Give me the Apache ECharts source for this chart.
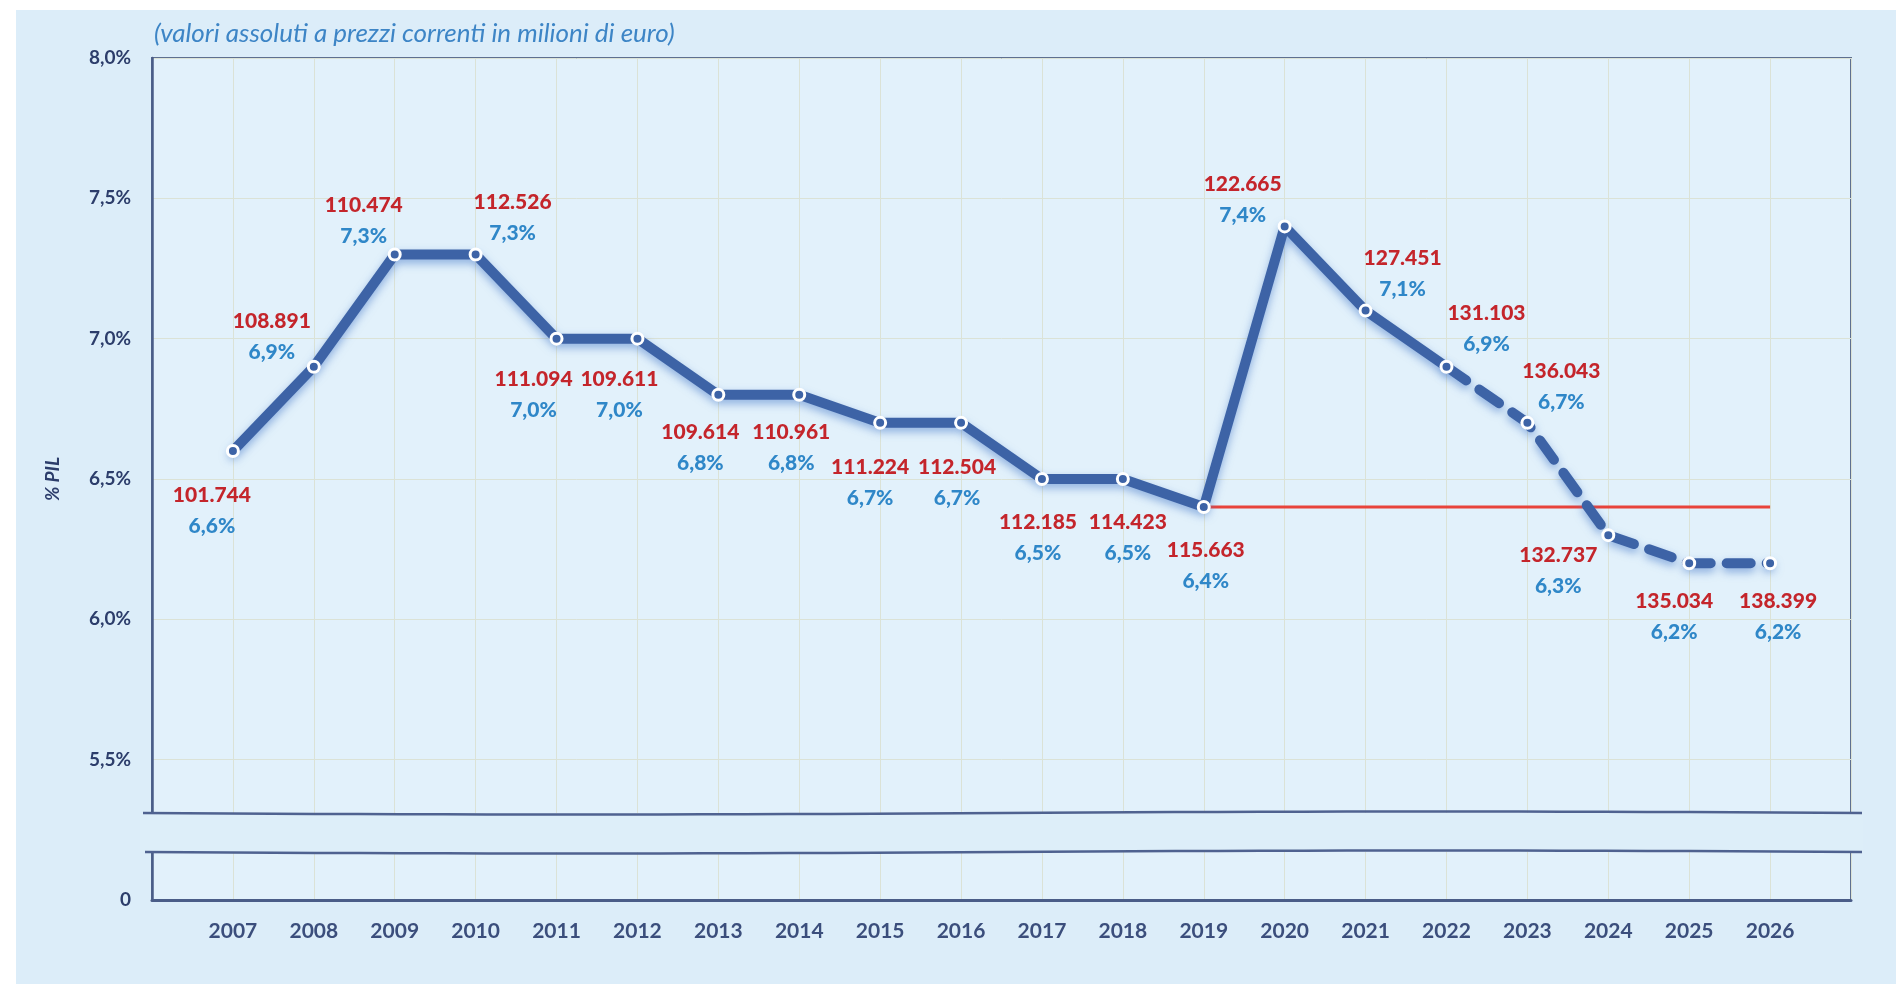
<!DOCTYPE html>
<html>
<head>
<meta charset="utf-8">
<script src="https://cdn.jsdelivr.net/npm/echarts@6/dist/echarts.min.js"></script>
<style>
html,body{margin:0;padding:0;background:#ffffff;}
#chart{width:1896px;height:984px;}
</style>
</head>
<body>
<div id="chart"></div>
<script>
// ---- data ----
const years = [2007,2008,2009,2010,2011,2012,2013,2014,2015,2016,2017,2018,2019,2020,2021,2022,2023,2024,2025,2026];
const pctPIL = [6.6,6.9,7.3,7.3,7.0,7.0,6.8,6.8,6.7,6.7,6.5,6.5,6.4,7.4,7.1,6.9,6.7,6.3,6.2,6.2];
const spesaMln = [101744,108891,110474,112526,111094,109611,109614,110961,111224,112504,112185,114423,115663,122665,127451,131103,136043,132737,135034,138399];
const yTickValues = [5.0,5.5,6.0,6.5,7.0,7.5,8.0];
const yTickLabels = ['0','5,5%','6,0%','6,5%','7,0%','7,5%','8,0%'];
const lastSolidYear = 2022;
const refStartYear = 2019;
const refEndYear = 2026;
const subtitle = '(valori assoluti a prezzi correnti in milioni di euro)';
const yName = '% PIL';

// ---- label placement (style) ----
const labelOffsets = [[-21,60],[-42,-30],[-31,-34],[37,-37],[-23,56],[-18,56],[-18,53],[-8,53],[-10,60],[-4,60],[-4,59],[5,59],[2,59],[-42,-27],[37,-37],[40,-38],[34,-36],[-50,36],[-15,54],[8,54]];

const fmtEuro = v => String(v).replace(/\B(?=(\d{3})+(?!\d))/g, '.');
const fmtPct = v => v.toFixed(1).replace('.', ',') + '%';

const pairs = years.map((y,i) => [y, pctPIL[i]]);
const solid = pairs.filter(p => p[0] <= lastSolidYear);
const dashed = pairs.filter(p => p[0] >= lastSolidYear);
const refVal = pctPIL[years.indexOf(refStartYear)];

const FONT = 'Lato';
const lineColor = '#3d63a6';

const chart = echarts.init(document.getElementById('chart'));
const option = {
  backgroundColor: '#dcedf9',
  animation: false,
  title: {
    text: subtitle, left: 149, top: 16,
    textStyle: {fontFamily: FONT, fontStyle: 'italic', fontWeight: 'normal', fontSize: 26, color: '#3d85c6'}
  },
  grid: {
    left: 152, top: 58, right: 45, bottom: 84,
    show: true, backgroundColor: '#e2f1fb', borderColor: '#5e7090', borderWidth: 2
  },
  xAxis: {
    type: 'value', min: 2006, max: 2027, interval: 1,
    axisLine: {show: true, lineStyle: {color: '#4a5d88', width: 3}},
    axisTick: {show: false},
    splitLine: {show: true, lineStyle: {color: '#dbe2d6', width: 1}},
    axisLabel: {
      margin: 21, fontFamily: FONT, fontWeight: 'bold', fontSize: 21, color: '#3b4e7c',
      formatter: v => years.indexOf(v) >= 0 ? String(v) : ''
    }
  },
  yAxis: {
    type: 'value', min: 5, max: 8, interval: 0.5,
    name: yName, nameLocation: 'middle', nameRotate: 90, nameGap: 90,
    nameTextStyle: {fontFamily: FONT, fontWeight: 'bold', fontStyle: 'italic', fontSize: 19, color: '#2c3d6b'},
    axisLine: {show: true, lineStyle: {color: '#4a5d88', width: 2.5}},
    axisTick: {show: false},
    splitLine: {show: true, lineStyle: {color: '#dbe2d6', width: 1}},
    axisLabel: {
      margin: 21, fontFamily: FONT, fontWeight: 'bold', fontSize: 19, color: '#2c3d6b',
      formatter: v => { const k = yTickValues.findIndex(t => Math.abs(t - v) < 1e-6); return k >= 0 ? yTickLabels[k] : ''; }
    }
  },
  series: [
    {
      type: 'line', name: 'riferimento', z: 2, silent: true,
      data: [[refStartYear, refVal], [refEndYear, refVal]],
      symbol: 'none', lineStyle: {color: '#e8433b', width: 3}
    },
    {
      type: 'line', name: 'consuntivo', z: 3, silent: true,
      data: solid, symbol: 'none',
      lineStyle: {color: lineColor, width: 10, cap: 'round', join: 'round',
        shadowColor: 'rgba(70,120,200,0.55)', shadowBlur: 8, shadowOffsetY: 4}
    },
    {
      type: 'line', name: 'previsione', z: 3, silent: true,
      data: dashed, symbol: 'none',
      lineStyle: {color: lineColor, width: 10, type: [24, 16], cap: 'round', join: 'round',
        shadowColor: 'rgba(70,120,200,0.55)', shadowBlur: 8, shadowOffsetY: 4}
    },
    {
      type: 'line', name: 'punti', z: 4, silent: true,
      data: pairs.map((p, i) => ({
        value: p,
        label: {offset: labelOffsets[i]}
      })),
      lineStyle: {width: 0, opacity: 0},
      symbol: 'circle', symbolSize: 11,
      itemStyle: {color: lineColor, borderColor: '#ffffff', borderWidth: 3},
      label: {
        show: true, position: 'inside', align: 'center', verticalAlign: 'middle',
        formatter: prm => {
          const i = prm.dataIndex;
          return '{r|' + fmtEuro(spesaMln[i]) + '}\n{b|' + fmtPct(pctPIL[i]) + '}';
        },
        rich: {
          r: {fontFamily: FONT, fontWeight: 900, fontSize: 21, color: '#c4252b', lineHeight: 31, align: 'center'},
          b: {fontFamily: FONT, fontWeight: 900, fontSize: 21, color: '#2f87c8', lineHeight: 31, align: 'center'}
        }
      }
    }
  ]
};
chart.setOption(option);

// ---- axis break band (decoration placed via the axes) ----
const breakTop = 5.31, breakBottom = 5.171;
const yT = chart.convertToPixel({yAxisIndex: 0}, breakTop);
const yB = chart.convertToPixel({yAxisIndex: 0}, breakBottom);
const xL = chart.convertToPixel({xAxisIndex: 0}, 2006);
const xR = chart.convertToPixel({xAxisIndex: 0}, 2027);
function wave(y0, x0, x1) {
  const pts = [];
  for (let k = 0; k <= 40; k++) {
    const x = x0 + (x1 - x0) * k / 40;
    pts.push([x, y0 + 1.5 * Math.sin(k / 40 * Math.PI * 2)]);
  }
  return pts;
}
chart.setOption({
  graphic: [
    {type: 'rect', z: 50, silent: true, shape: {x: 0, y: 0, width: 1896, height: 10}, style: {fill: '#ffffff'}},
    {type: 'rect', z: 50, silent: true, shape: {x: 0, y: 0, width: 16, height: 984}, style: {fill: '#ffffff'}},
    {type: 'rect', z: 50, silent: true, shape: {x: xL - 12, y: yT, width: xR - xL + 24, height: yB - yT}, style: {fill: '#ddeef9'}},
    {type: 'polyline', z: 51, silent: true, shape: {points: wave(yT, xL - 9, xR + 11)}, style: {stroke: '#4f6290', lineWidth: 2.5, fill: null}},
    {type: 'polyline', z: 51, silent: true, shape: {points: wave(yB, xL - 7, xR + 11)}, style: {stroke: '#4f6290', lineWidth: 2.5, fill: null}}
  ]
});
</script>
</body>
</html>
